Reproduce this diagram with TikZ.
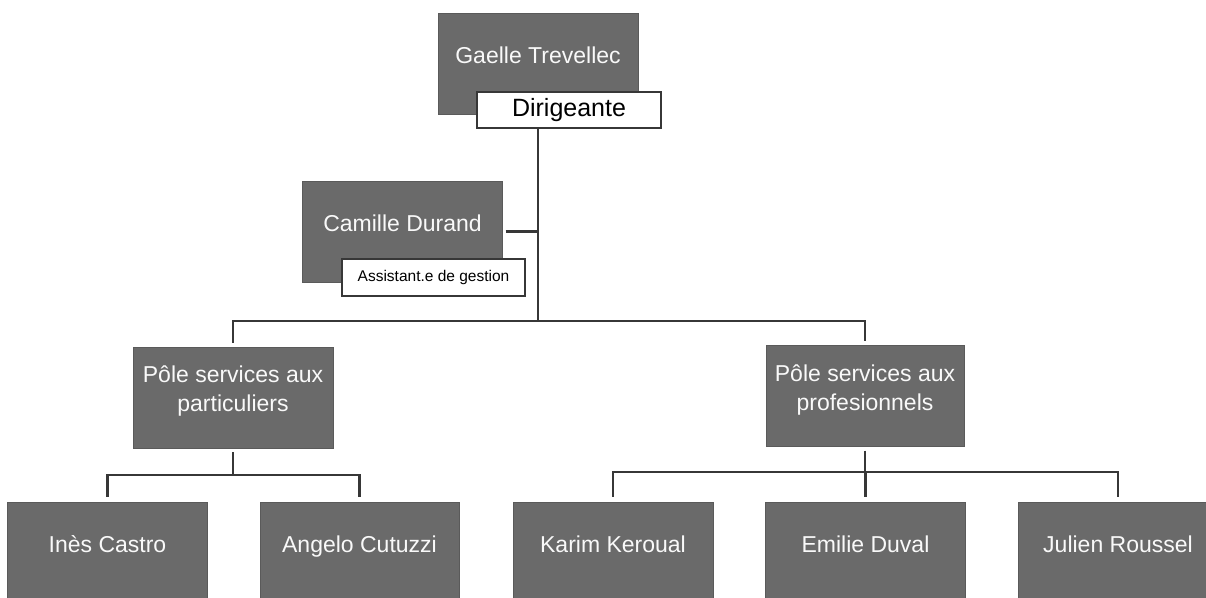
\documentclass[tikz,border=0pt]{standalone}
\usepackage{fontspec}
\setmainfont{Liberation Sans}
\usepackage{tikz}
\definecolor{boxgray}{RGB}{106,106,106}
\definecolor{linegray}{RGB}{55,55,55}

\begin{document}
\begin{tikzpicture}[x=1pt, y=-1pt,
    staff/.style={fill=boxgray, draw=boxgray!85!black, text=white!95!gray, minimum width=200pt,
      minimum height=101pt, inner sep=0pt, align=center, text depth=17pt,
      font=\fontsize{23}{29}\selectfont},
    role/.style={fill=white, draw=linegray, line width=1.8pt, inner sep=0pt, text=black},
    link/.style={draw=linegray, line width=2.2pt}]
      \useasboundingbox (0,0) rectangle (1206,597);
      \clip (0,0) rectangle (1206,597);
      % top of the tree
      \node[staff] (gaelle) at (538,64) {Gaelle Trevellec};
      \node[role, minimum width=184pt, minimum height=36pt, font=\fontsize{25}{28}\selectfont] (dir) at (569,110) {Dirigeante};
      \node[staff] (camille) at (402.5,231.5) {Camille Durand};
      \node[role, minimum width=183pt, minimum height=37pt, font=\fontsize{15.5}{18}\selectfont] (assist) at (433.5,277.5) {Assistant.e de gestion};
      % poles
      \node[staff] (part) at (233,397.5) {Pôle services aux\\particuliers};
      \node[staff, minimum width=198pt] (pro) at (865,396) {Pôle services aux\\profesionnels};
      % team members
      \node[staff] (ines) at (107.5,553) {Inès Castro};
      \node[staff, minimum width=199pt] (angelo) at (359.5,553) {Angelo Cutuzzi};
      \node[staff] (karim) at (613,553) {Karim Keroual};
      \node[staff] (emilie) at (865.5,553) {Emilie Duval};
      \node[staff] (julien) at (1118,553) {Julien Roussel};
      \coordinate (hub) at (538,321);
      \coordinate (hubpart) at (233,475);
      \coordinate (hubpro) at (865,472);
      \draw[link] (gaelle.south |- dir.south) -- (hub);
      \draw[link, shorten <=3pt] (camille.east) -- (camille.east -| hub);
      \draw[link, shorten >=4pt] (hub) -| (part.north);
      \draw[link, shorten >=4pt] (hub) -| (pro.north);
      \draw[link, shorten <=4pt] (part.south) -- (hubpart);
      \draw[link, shorten <=4pt] (pro.south) -- (hubpro);
      \draw[link, shorten >=5pt] (hubpart) -| (ines.north);
      \draw[link, shorten >=5pt] (hubpart) -| (angelo.north);
      \draw[link, shorten >=5pt] (hubpro) -| (karim.north);
      \draw[link, shorten >=5pt] (hubpro) -| (emilie.north);
      \draw[link, shorten >=5pt] (hubpro) -| (julien.north);
\end{tikzpicture}
\end{document}
